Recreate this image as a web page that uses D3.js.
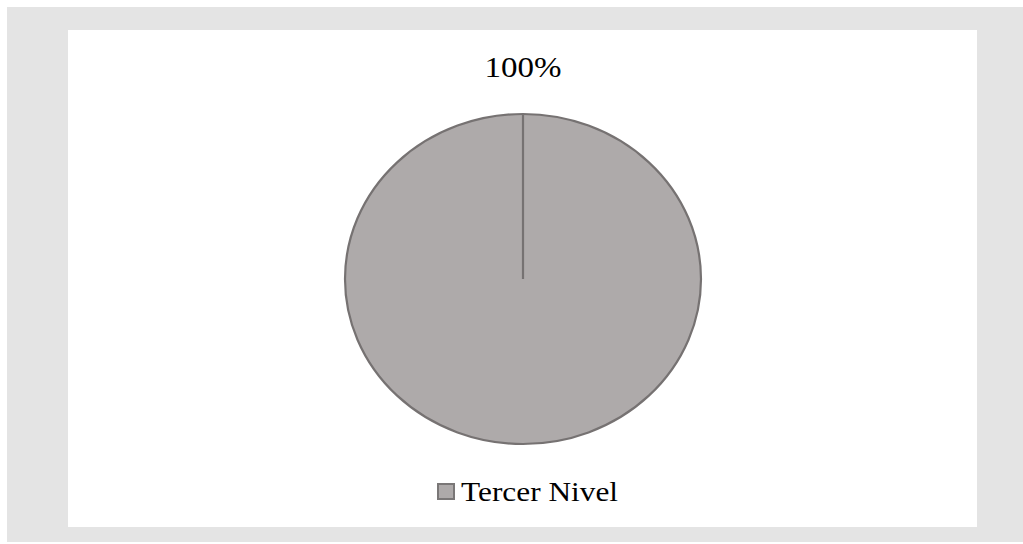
<!DOCTYPE html>
<html>
<head>
<meta charset="utf-8">
<script src="https://cdn.jsdelivr.net/npm/d3@7"></script>
<style>
  body { margin: 0; background: #fff; }
</style>
</head>
<body>
<script>
var width = 1023,
    height = 544;

var categories = ["Tercer Nivel"],
    values = [100],
    colors = ["#aeaaaa"];

var serif = "'Liberation Serif', 'Times New Roman', 'DejaVu Serif', serif";

var svg = d3.select("body").append("svg")
    .attr("width", width)
    .attr("height", height);

// outer grey frame and white plot area
svg.append("rect").attr("x", 7).attr("y", 7).attr("width", width - 7).attr("height", height - 9).attr("fill", "#e4e4e4");
svg.append("rect").attr("x", 68).attr("y", 30).attr("width", 909).attr("height", 497).attr("fill", "#fff");

var cx = 523, cy = 279, rx = 178, ry = 165;

var pie = d3.pie().sort(null).value(function(d) { return d; });
var arc = d3.arc().innerRadius(0).outerRadius(rx);
var total = d3.sum(values);

var g = svg.append("g")
    .attr("transform", "translate(" + cx + "," + cy + ") scale(1," + (ry / rx) + ")");

g.selectAll("path")
    .data(pie(values))
    .enter().append("path")
    .attr("d", arc)
    .attr("fill", function(d, i) { return colors[i]; })
    .attr("stroke", "#767272")
    .attr("stroke-width", 2.2)
    .attr("vector-effect", "non-scaling-stroke");

// radial seam line of the single slice
g.append("line")
    .attr("x1", 0).attr("y1", 0).attr("x2", 0).attr("y2", -rx)
    .attr("stroke", "#767272")
    .attr("stroke-width", 2.2)
    .attr("vector-effect", "non-scaling-stroke");

// label (text is slightly stretched horizontally, like the pie)
svg.append("text")
    .attr("transform", "translate(" + cx + ",77) scale(1.1,1)")
    .attr("text-anchor", "middle")
    .attr("font-family", serif)
    .attr("font-size", 30)
    .attr("fill", "#000")
    .text(d3.format(".0%")(values[0] / total));

// legend
var legend = svg.append("g").attr("transform", "translate(437,483)");
legend.append("rect")
    .attr("x", 1).attr("y", 1).attr("width", 16).attr("height", 15)
    .attr("fill", colors[0])
    .attr("stroke", "#7a7777")
    .attr("stroke-width", 2);
legend.append("text")
    .attr("transform", "translate(24,18) scale(1.12,1)")
    .attr("font-family", serif)
    .attr("font-size", 28)
    .attr("fill", "#000")
    .text(categories[0]);
</script>
</body>
</html>
